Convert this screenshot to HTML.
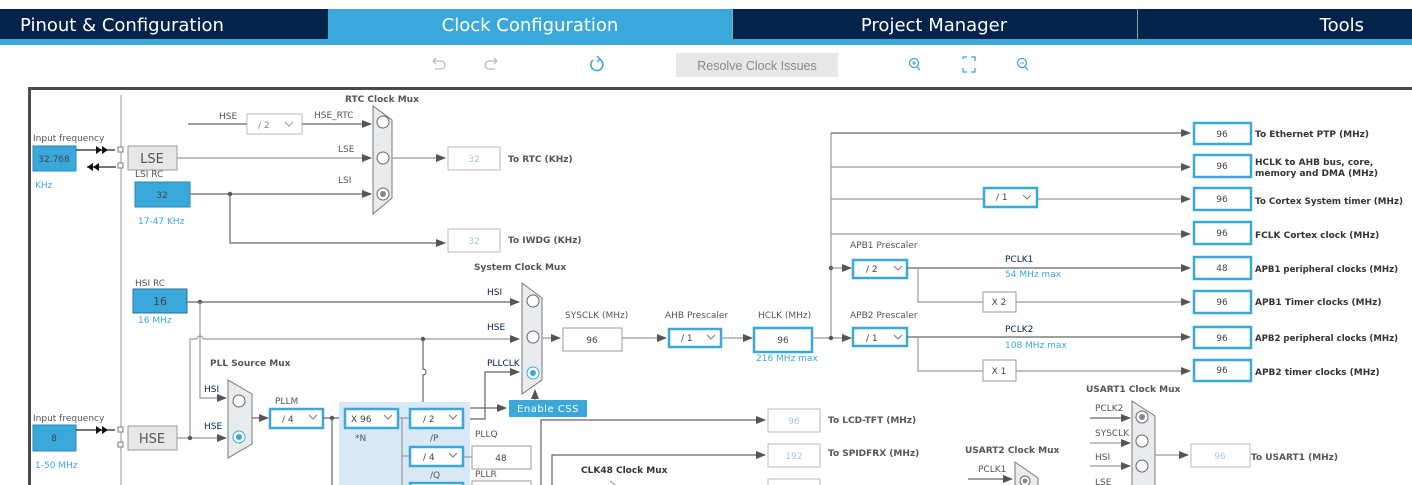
<!DOCTYPE html>
<html><head><meta charset="utf-8"><style>
html,body{margin:0;padding:0;background:#fff;width:1412px;height:485px;overflow:hidden}
svg{display:block}
text{font-family:"DejaVu Sans","Liberation Sans",sans-serif}
.tab{font-family:"DejaVu Sans","Liberation Sans",sans-serif;font-size:18px;fill:#fff}
.l{font-size:9px;fill:#555}
.b{font-size:9px;fill:#555;font-weight:bold}
.bd{font-size:9px;fill:#333;font-weight:bold}
.bl{font-size:9px;fill:#3aa8db}
.nv{font-size:9px;fill:#03234b}
.v{font-size:9px;fill:#444;text-anchor:middle}
.vl{font-size:9px;fill:#a9c4dc;text-anchor:middle}
.ln{stroke:#666;stroke-width:1.2;fill:none}
.lg{stroke:#999;stroke-width:1.2;fill:none}
.box{fill:#fff;stroke:#999;stroke-width:1}
.bb{fill:#fff;stroke:#3aa8db;stroke-width:2.5}
.gb{fill:#fff;stroke:#bbb;stroke-width:1}
.mux{fill:#e9ecef;stroke:#777;stroke-width:1}
.c{fill:#fff;stroke:#666;stroke-width:1}
</style></head><body>
<svg width="1412" height="485" viewBox="0 0 1412 485" xmlns="http://www.w3.org/2000/svg">
<defs>
<marker id="a" markerWidth="10" markerHeight="8" refX="9" refY="4" orient="auto" markerUnits="userSpaceOnUse"><path d="M0,0 L10,4 L0,8 z" fill="#555"/></marker>
</defs>
<!-- tabs -->
<rect x="0" y="9" width="1412" height="31" fill="#03234b"/>
<rect x="328" y="9" width="404" height="31" fill="#3aa8db"/>
<rect x="0" y="39" width="1412" height="6" fill="#3aa8db"/>
<line x1="732.5" y1="9" x2="732.5" y2="39" stroke="#8aa" stroke-width="1"/>
<line x1="1137.5" y1="9" x2="1137.5" y2="39" stroke="#8aa" stroke-width="1"/>
<text class="tab" x="20" y="31">Pinout &amp; Configuration</text>
<text class="tab" x="530" y="31" text-anchor="middle">Clock Configuration</text>
<text class="tab" x="934" y="31" text-anchor="middle">Project Manager</text>
<text class="tab" x="1364" y="31" text-anchor="end">Tools</text>
<!-- toolbar -->
<path d="M433,61 h8 a4,4 0 0 1 0,8 h-6 M433,61 l3,-3 M433,61 l3,3" stroke="#bbb" fill="none" stroke-width="1.3"/>
<path d="M497,61 h-8 a4,4 0 0 0 0,8 h6 M497,61 l-3,-3 M497,61 l-3,3" stroke="#bbb" fill="none" stroke-width="1.3"/>
<path d="M593,60 a6,6 0 1 0 6,-1" stroke="#3aa8db" fill="none" stroke-width="1.6"/>
<path d="M597,56 l3,3 l-3,3" stroke="#3aa8db" fill="none" stroke-width="1.4"/>
<rect x="676" y="53" width="162" height="24" fill="#e6e7e8"/>
<text x="757" y="70" font-size="12.5" fill="#888" text-anchor="middle" style="font-family:'Liberation Sans',sans-serif">Resolve Clock Issues</text>
<circle cx="914" cy="63" r="4.5" fill="none" stroke="#3aa8db" stroke-width="1.3"/><line x1="917" y1="67" x2="920" y2="70" stroke="#3aa8db" stroke-width="1.3"/><path d="M912,63 h4 M914,61 v4" stroke="#3aa8db"/>
<path d="M963,59 v-2 h4 M971,57 h4 v4 M975,68 v4 h-4 M967,72 h-4 v-4" stroke="#3aa8db" fill="none" stroke-width="1.3"/>
<circle cx="1022" cy="63" r="4.5" fill="none" stroke="#3aa8db" stroke-width="1.3"/><line x1="1025" y1="67" x2="1028" y2="70" stroke="#3aa8db" stroke-width="1.3"/><path d="M1020,63 h4" stroke="#3aa8db"/>
<!-- frame -->
<path d="M29.5,485 V88.5 H1412" stroke="#4a4a4a" stroke-width="3" fill="none"/>
<line x1="121" y1="95" x2="121" y2="485" stroke="#999" stroke-width="1"/>

<!-- LSE -->
<text class="l" x="33" y="141">Input frequency</text>
<rect x="33" y="146" width="43" height="25" fill="#3aa8db" stroke="#2a88b8"/>
<text class="v" x="54" y="162">32.768</text>
<text class="bl" x="35" y="188">KHz</text>
<line x1="76" y1="150" x2="115" y2="150" stroke="#222" stroke-width="1.2"/>
<path d="M96,146 l6,4 l-6,4z M102,146 l6,4 l-6,4z" fill="#111"/>
<line x1="87" y1="167" x2="116" y2="167" stroke="#222" stroke-width="1.2"/>
<path d="M93,163 l-6,4 l6,4z M99,163 l-6,4 l6,4z" fill="#111"/>
<rect x="118" y="147" width="5" height="5" fill="#fff" stroke="#777"/>
<rect x="118" y="163" width="5" height="5" fill="#fff" stroke="#777"/>
<rect x="128" y="146" width="49" height="24" fill="#e6e7e8" stroke="#999"/>
<text x="152" y="163" font-size="13" fill="#555" text-anchor="middle">LSE</text>
<line class="lg" x1="177" y1="158" x2="371" y2="158" marker-end="url(#a)"/>
<text class="l" x="338" y="152">LSE</text>
<text class="l" x="219" y="119">HSE</text>
<line class="ln" x1="188" y1="124" x2="247" y2="124"/>
<rect class="gb" x="247" y="114" width="55" height="20"/>
<text x="258" y="128" font-size="9" fill="#888">/ 2</text>
<path d="M285,122 l4,4 l4,-4" stroke="#999" fill="none"/>
<text class="l" x="314" y="118">HSE_RTC</text>
<line class="ln" x1="302" y1="124" x2="371" y2="124" marker-end="url(#a)"/>
<text class="b" x="345" y="102">RTC Clock Mux</text>
<path class="mux" d="M373,106 L392,120 L392,198 L373,214 z"/>
<circle class="c" cx="383" cy="122" r="6"/><circle class="c" cx="383" cy="158" r="6"/><circle class="c" cx="383" cy="194" r="6"/><circle cx="383" cy="194" r="3" fill="#888"/>
<text class="l" x="135" y="177">LSI RC</text>
<rect x="135" y="182" width="55" height="25" fill="#3aa8db" stroke="#2a88b8"/>
<text class="v" x="162" y="198">32</text>
<text class="bl" x="138" y="224">17-47 KHz</text>
<line class="ln" x1="190" y1="194" x2="371" y2="194" marker-end="url(#a)"/>
<text class="l" x="338" y="183">LSI</text>
<circle cx="230" cy="194" r="2.2" fill="#555"/>
<path class="ln" d="M230,194 V243 H445" marker-end="url(#a)"/>
<line class="lg" x1="392" y1="158" x2="445" y2="158" marker-end="url(#a)"/>
<rect class="gb" x="448" y="147" width="52" height="23"/><text class="vl" x="474" y="162">32</text>
<text class="b" x="508" y="162">To RTC (KHz)</text>
<rect class="gb" x="448" y="229" width="52" height="23"/><text class="vl" x="474" y="244">32</text>
<text class="b" x="508" y="243">To IWDG (KHz)</text>

<!-- HSI / system mux -->
<text class="b" x="474" y="270">System Clock Mux</text>
<text class="l" x="135" y="286">HSI RC</text>
<rect x="133" y="289" width="54" height="24" fill="#3aa8db" stroke="#2a6f98"/>
<text x="160" y="305" font-size="11" fill="#444" text-anchor="middle">16</text>
<text class="bl" x="138" y="323">16 MHz</text>
<line class="ln" x1="187" y1="302" x2="519" y2="302" marker-end="url(#a)"/>
<circle cx="200" cy="302" r="2.2" fill="#555"/>
<path class="lg" d="M200,302 V398 H226" marker-end="url(#a)"/>
<text class="nv" x="487" y="295">HSI</text>
<path class="lg" d="M190,438 V339 H197 a3,3 0 0 1 6,0 H519" marker-end="url(#a)"/>
<text class="nv" x="487" y="330">HSE</text>
<circle cx="423" cy="339" r="2.2" fill="#555"/>
<path class="ln" d="M423,339 V369 a3,3 0 0 1 0,6 V408 H506" marker-end="url(#a)"/>
<path class="ln" d="M465,419 H485 V372 H519" marker-end="url(#a)"/>
<text class="nv" x="487" y="366">PLLCLK</text>
<path class="mux" d="M522,283 L542,298 L542,380 L522,394 z"/>
<circle class="c" cx="533" cy="301" r="6"/><circle class="c" cx="533" cy="337" r="6"/>
<circle cx="533" cy="373" r="6" fill="#fff" stroke="#3aa8db"/><circle cx="533" cy="373" r="3" fill="#3aa8db"/>
<rect x="509" y="400" width="78" height="17" fill="#3aa8db"/>
<text x="548" y="412" font-size="10" fill="#fff" text-anchor="middle" letter-spacing="0.5">Enable CSS</text>
<line class="lg" x1="535" y1="400" x2="535" y2="390" marker-end="url(#a)"/>
<line class="lg" x1="542" y1="338" x2="560" y2="338" marker-end="url(#a)"/>
<text class="l" x="565" y="318">SYSCLK (MHz)</text>
<rect class="box" x="563" y="328" width="59" height="23"/><text class="v" x="592" y="343">96</text>
<line class="lg" x1="622" y1="338" x2="666" y2="338" marker-end="url(#a)"/>
<text class="l" x="665" y="318">AHB Prescaler</text>
<rect class="bb" x="669" y="329" width="52" height="18"/><text x="681" y="341" font-size="9" fill="#444">/ 1</text><path d="M707,335 l4,4 l4,-4" stroke="#777" fill="none"/>
<line class="lg" x1="721" y1="338" x2="752" y2="338" marker-end="url(#a)"/>
<text class="l" x="758" y="318">HCLK (MHz)</text>
<rect class="bb" x="754" y="328" width="58" height="24"/><text class="v" x="783" y="343">96</text>
<text class="bl" x="756" y="361">216 MHz max</text>
<line class="lg" x1="812" y1="338" x2="851" y2="338" marker-end="url(#a)"/>
<line class="lg" x1="831" y1="133" x2="831" y2="338"/>
<circle cx="831" cy="338" r="2.2" fill="#555"/><circle cx="831" cy="268" r="2.2" fill="#555"/>
<line class="ln" x1="831" y1="133" x2="1190" y2="133" marker-end="url(#a)"/>
<line class="lg" x1="831" y1="167" x2="1190" y2="167" marker-end="url(#a)"/>
<line class="lg" x1="831" y1="199" x2="1190" y2="199" marker-end="url(#a)"/>
<rect class="bb" x="984" y="188" width="53" height="19"/><text x="996" y="200" font-size="9" fill="#444">/ 1</text><path d="M1023,195 l4,4 l4,-4" stroke="#777" fill="none"/>
<line class="lg" x1="831" y1="234" x2="1190" y2="234" marker-end="url(#a)"/>
<line class="lg" x1="831" y1="268" x2="851" y2="268" marker-end="url(#a)"/>
<text class="l" x="850" y="248">APB1 Prescaler</text>
<rect class="bb" x="853" y="260" width="54" height="18"/><text x="866" y="272" font-size="9" fill="#444">/ 2</text><path d="M894,266 l4,4 l4,-4" stroke="#777" fill="none"/>
<line class="ln" x1="907" y1="268" x2="1190" y2="268" marker-end="url(#a)"/>
<text class="nv" x="1005" y="262">PCLK1</text><text class="bl" x="1005" y="277">54 MHz max</text>
<path class="lg" d="M918,268 V302 H1190" marker-end="url(#a)"/>
<rect class="box" x="983" y="292" width="33" height="20"/><text class="v" x="999" y="305">X 2</text>
<text class="l" x="850" y="318">APB2 Prescaler</text>
<rect class="bb" x="853" y="328" width="54" height="18"/><text x="866" y="341" font-size="9" fill="#444">/ 1</text><path d="M894,335 l4,4 l4,-4" stroke="#777" fill="none"/>
<line class="ln" x1="907" y1="337" x2="1190" y2="337" marker-end="url(#a)"/>
<text class="nv" x="1005" y="332">PCLK2</text><text class="bl" x="1005" y="348">108 MHz max</text>
<path class="lg" d="M918,337 V371 H1190" marker-end="url(#a)"/>
<rect class="box" x="983" y="360" width="33" height="21"/><text class="v" x="999" y="374">X 1</text>
<!-- outputs -->
<g>
<rect class="bb" x="1194" y="123" width="57" height="21"/><text class="v" x="1222" y="137">96</text><text class="bd" x="1255" y="137">To Ethernet PTP (MHz)</text>
<rect class="bb" x="1194" y="155" width="57" height="22"/><text class="v" x="1222" y="169">96</text><text class="bd" x="1255" y="165">HCLK to AHB bus, core,</text><text class="bd" x="1255" y="176">memory and DMA (MHz)</text>
<rect class="bb" x="1194" y="188" width="57" height="22"/><text class="v" x="1222" y="202">96</text><text class="bd" x="1255" y="204" textLength="148" lengthAdjust="spacingAndGlyphs">To Cortex System timer (MHz)</text>
<rect class="bb" x="1194" y="222" width="57" height="22"/><text class="v" x="1222" y="236">96</text><text class="bd" x="1255" y="238">FCLK Cortex clock (MHz)</text>
<rect class="bb" x="1194" y="257" width="57" height="22"/><text class="v" x="1222" y="271">48</text><text class="bd" x="1255" y="272" textLength="143" lengthAdjust="spacingAndGlyphs">APB1 peripheral clocks (MHz)</text>
<rect class="bb" x="1194" y="291" width="57" height="22"/><text class="v" x="1222" y="305">96</text><text class="bd" x="1255" y="305">APB1 Timer clocks (MHz)</text>
<rect class="bb" x="1194" y="327" width="57" height="21"/><text class="v" x="1222" y="341">96</text><text class="bd" x="1255" y="341" textLength="143" lengthAdjust="spacingAndGlyphs">APB2 peripheral clocks (MHz)</text>
<rect class="bb" x="1194" y="360" width="57" height="21"/><text class="v" x="1222" y="373">96</text><text class="bd" x="1255" y="375">APB2 timer clocks (MHz)</text>
</g>

<!-- PLL -->
<text class="b" x="210" y="366">PLL Source Mux</text>
<text class="l" x="33" y="421">Input frequency</text>
<rect x="33" y="425" width="43" height="26" fill="#3aa8db" stroke="#2a88b8"/>
<text class="v" x="54" y="441">8</text>
<text class="bl" x="35" y="468">1-50 MHz</text>
<line x1="76" y1="430" x2="115" y2="430" stroke="#222" stroke-width="1.2"/>
<path d="M96,426 l6,4 l-6,4z M102,426 l6,4 l-6,4z" fill="#111"/>
<rect x="118" y="427" width="5" height="5" fill="#fff" stroke="#777"/>
<rect x="118" y="442" width="5" height="5" fill="#fff" stroke="#777"/>
<rect x="128" y="426" width="49" height="24" fill="#e6e7e8" stroke="#999"/>
<text x="152" y="443" font-size="13" fill="#555" text-anchor="middle">HSE</text>
<line class="lg" x1="177" y1="438" x2="226" y2="438" marker-end="url(#a)"/>
<circle cx="190" cy="438" r="2.2" fill="#555"/>
<text class="nv" x="204" y="392">HSI</text><text class="nv" x="204" y="429">HSE</text>
<path class="mux" d="M228,380 L252,394 L252,444 L228,458 z"/>
<circle class="c" cx="239" cy="401" r="6"/>
<circle cx="239" cy="437" r="6" fill="#fff" stroke="#3aa8db"/><circle cx="239" cy="437" r="3" fill="#3aa8db"/>
<line class="ln" x1="252" y1="418" x2="268" y2="418" marker-end="url(#a)"/>
<text class="l" x="275" y="404">PLLM</text>
<rect class="bb" x="270" y="409" width="53" height="19"/><text x="282" y="422" font-size="9" fill="#444">/ 4</text><path d="M309,415 l4,4 l4,-4" stroke="#777" fill="none"/>
<line class="ln" x1="323" y1="418" x2="345" y2="418"/>
<circle cx="332" cy="418" r="2.2" fill="#555"/>
<line class="ln" x1="332" y1="418" x2="332" y2="485"/>
<rect x="339" y="402" width="131" height="83" fill="#d9e8f5"/>
<rect class="bb" x="345" y="409" width="53" height="19"/><text x="351" y="422" font-size="9" fill="#444">X 96</text><path d="M384,415 l4,4 l4,-4" stroke="#777" fill="none"/>
<text class="l" x="355" y="441">*N</text>
<path class="lg" d="M398,418 H410 M402,418 V485 M402,456 H410"/>
<rect class="bb" x="410" y="409" width="53" height="19"/><text x="423" y="422" font-size="9" fill="#444">/ 2</text><path d="M449,415 l4,4 l4,-4" stroke="#777" fill="none"/>
<text class="l" x="430" y="441">/P</text>
<rect class="bb" x="410" y="447" width="53" height="19"/><text x="423" y="460" font-size="9" fill="#444">/ 4</text><path d="M449,453 l4,4 l4,-4" stroke="#777" fill="none"/>
<text class="l" x="430" y="478">/Q</text>
<rect class="bb" x="410" y="483" width="53" height="19"/>
<line class="lg" x1="463" y1="457" x2="472" y2="457"/>
<text class="l" x="475" y="437">PLLQ</text>
<rect class="box" x="472" y="446" width="59" height="23"/><text class="v" x="501" y="461">48</text>
<text class="l" x="475" y="477">PLLR</text>
<rect class="box" x="472" y="481" width="59" height="23"/>
<!-- lower right -->
<path class="ln" d="M541,485 V420 H765" marker-end="url(#a)"/>
<path class="ln" d="M552,485 V455 H765" marker-end="url(#a)"/>
<rect class="gb" x="768" y="409" width="52" height="23"/><text class="vl" x="794" y="424">96</text>
<text class="b" x="828" y="423">To LCD-TFT (MHz)</text>
<rect class="gb" x="768" y="444" width="52" height="23"/><text class="vl" x="794" y="459">192</text>
<text class="b" x="828" y="456">To SPIDFRX (MHz)</text>
<rect class="gb" x="768" y="479" width="52" height="23"/>
<text class="bd" x="581" y="473">CLK48 Clock Mux</text>
<path d="M610,481 L618,487" stroke="#999" fill="none"/>
<text class="b" x="965" y="453" fill="#888">USART2 Clock Mux</text>
<text class="l" x="978" y="472" fill="#888">PCLK1</text>
<line class="ln" x1="968" y1="479" x2="1012" y2="479" marker-end="url(#a)"/>
<path class="mux" d="M1015,462 L1038,478 L1038,500 L1015,500 z"/>
<circle class="c" cx="1025" cy="481" r="5"/><circle cx="1025" cy="481" r="2.5" fill="#888"/>
<text class="b" x="1086" y="392" fill="#888">USART1 Clock Mux</text>
<path class="mux" d="M1132,401 L1155,416 L1155,500 L1132,500 z"/>
<text class="l" x="1095" y="411" fill="#888">PCLK2</text><line class="ln" x1="1090" y1="418" x2="1130" y2="418" marker-end="url(#a)"/>
<text class="l" x="1095" y="436" fill="#888">SYSCLK</text><line class="lg" x1="1090" y1="443" x2="1130" y2="443" marker-end="url(#a)"/>
<text class="l" x="1095" y="460" fill="#888">HSI</text><line class="lg" x1="1090" y1="466" x2="1130" y2="466" marker-end="url(#a)"/>
<text class="l" x="1095" y="485" fill="#888">LSE</text>
<circle class="c" cx="1142" cy="417" r="6"/><circle cx="1142" cy="417" r="3" fill="#888"/>
<circle class="c" cx="1142" cy="441" r="6"/><circle class="c" cx="1142" cy="466" r="6"/>
<line class="lg" x1="1155" y1="455" x2="1188" y2="455" marker-end="url(#a)"/>
<rect class="gb" x="1191" y="444" width="59" height="23"/><text class="vl" x="1220" y="459">96</text>
<text class="b" x="1251" y="460" fill="#888">To USART1 (MHz)</text>
</svg>
</body></html>
